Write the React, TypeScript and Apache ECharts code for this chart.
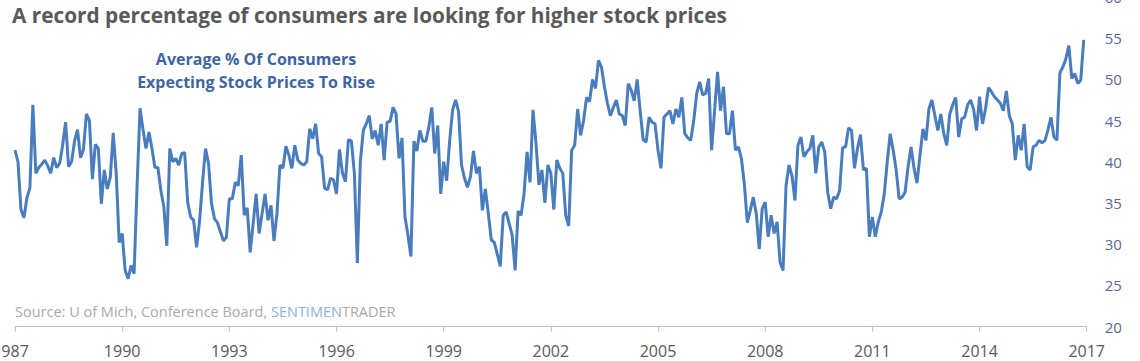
import React, { useEffect, useRef } from "react";
import * as echarts from "echarts";

const TITLE = "A record percentage of consumers are looking for higher stock prices";
const SUBTITLE_1 = "Average % Of Consumers";
const SUBTITLE_2 = "Expecting Stock Prices To Rise";
const SOURCE_PREFIX = "Source: U of Mich, Conference Board, ";
const SOURCE_BRAND_A = "SENTIMEN";
const SOURCE_BRAND_B = "TRADER";

const START_YEAR = 1987;
const END_YEAR = 2017;
const YEAR_STEP = 3;
const Y_MIN = 20;
const Y_MAX = 60;
const Y_STEP = 5;

// Monthly readings, Jan 1987 .. Dec 2016
const v1987_1991 = [
  41.4, 40.0, 34.2, 33.2, 35.6, 36.8, 46.9, 38.6, 39.3, 39.7, 40.2, 39.5,
  38.6, 40.5, 39.3, 39.8, 42.0, 44.8, 39.4, 40.0, 42.5, 43.9, 40.5, 41.5,
  45.8, 45.0, 37.9, 42.1, 41.6, 34.9, 39.0, 36.7, 38.1, 43.5, 38.6, 30.2,
  31.3, 26.8, 25.8, 27.4, 26.4, 37.0, 46.5, 43.9, 41.6, 43.6, 41.6, 39.3,
  39.3, 36.5, 34.5, 29.8, 41.6, 40.0, 40.4, 39.6, 41.0, 41.1, 35.1, 33.3,
];
const v1992_1996 = [
  32.9, 29.6, 32.8, 37.5, 41.6, 39.8, 35.0, 33.1, 32.6, 31.5, 30.4, 30.8,
  35.5, 35.5, 37.5, 37.1, 40.8, 33.5, 34.4, 29.0, 32.5, 36.1, 31.3, 33.7,
  36.1, 32.9, 34.7, 30.4, 33.7, 39.6, 39.2, 41.9, 40.8, 39.2, 42.0, 40.2,
  39.8, 39.6, 40.0, 44.0, 42.8, 44.6, 41.0, 40.6, 36.8, 36.6, 38.0, 37.8,
  36.1, 41.5, 38.6, 37.6, 42.7, 42.5, 38.6, 27.7, 40.0, 43.8, 44.6, 45.6,
];
const v1997_2001 = [
  42.8, 43.8, 42.0, 44.6, 40.2, 44.8, 44.9, 46.6, 45.8, 40.4, 42.9, 33.3,
  31.1, 28.5, 42.5, 41.3, 43.8, 42.5, 42.5, 44.2, 46.6, 41.0, 44.4, 36.1,
  40.0, 37.7, 42.5, 46.3, 47.5, 46.1, 39.6, 38.0, 36.9, 38.2, 41.3, 38.6,
  39.4, 34.1, 36.7, 33.7, 30.5, 30.2, 28.8, 27.3, 33.5, 33.9, 32.5, 31.1,
  26.8, 34.0, 33.5, 36.1, 41.2, 37.5, 46.3, 42.3, 37.2, 39.0, 35.0, 39.6,
];
const v2002_2006 = [
  38.6, 34.2, 40.2, 39.2, 38.6, 33.5, 32.2, 41.4, 42.0, 46.4, 43.2, 45.0,
  47.8, 47.3, 50.0, 48.9, 52.3, 51.5, 49.1, 47.1, 45.6, 46.6, 47.5, 45.8,
  45.6, 44.4, 49.5, 48.7, 47.4, 50.0, 46.2, 42.7, 42.4, 45.4, 44.8, 44.6,
  41.4, 39.2, 45.4, 45.8, 46.2, 44.6, 46.4, 45.4, 47.8, 43.4, 42.9, 42.6,
  45.0, 48.3, 49.7, 48.1, 48.3, 50.1, 41.4, 46.2, 50.9, 46.2, 49.1, 43.4,
];
const v2007_2011 = [
  43.4, 46.2, 41.4, 41.8, 40.4, 37.3, 32.6, 34.1, 35.7, 33.7, 29.4, 34.3,
  35.1, 30.9, 33.5, 31.3, 32.7, 27.8, 26.8, 37.1, 39.6, 38.3, 35.3, 42.0,
  43.0, 40.6, 41.2, 41.6, 43.2, 38.6, 41.8, 42.4, 41.2, 36.3, 34.3, 35.7,
  35.5, 36.5, 41.7, 41.8, 44.1, 43.8, 39.2, 41.6, 43.3, 39.0, 39.2, 30.9,
  33.3, 30.9, 32.7, 33.9, 36.1, 40.0, 43.4, 41.4, 39.0, 35.5, 35.7, 36.3,
];
const v2012_2016 = [
  39.4, 41.8, 39.2, 37.4, 40.8, 44.0, 42.6, 46.4, 47.5, 45.6, 43.8, 45.8,
  43.4, 42.0, 45.8, 46.9, 47.8, 43.0, 45.2, 45.4, 46.9, 47.5, 46.4, 43.8,
  47.9, 44.6, 46.4, 49.0, 48.5, 47.9, 47.5, 47.1, 46.2, 48.6, 45.6, 44.6,
  40.2, 43.2, 41.4, 44.6, 39.4, 39.0, 41.8, 42.0, 42.6, 42.3, 42.6, 43.9,
  45.4, 43.0, 42.6, 50.8, 51.5, 52.5, 54.1, 50.1, 50.7, 49.5, 49.9, 54.8,
];

const monthlyValues = [
  ...v1987_1991,
  ...v1992_1996,
  ...v1997_2001,
  ...v2002_2006,
  ...v2007_2011,
  ...v2012_2016,
];

// The chart canvas extends above the page so the top tick label ("60") is clipped like the original.
const OVERHANG_TOP = 20;

export default function App() {
  const ref = useRef<HTMLDivElement>(null);

  useEffect(() => {
    if (!ref.current) return;
    const chart = echarts.init(ref.current, null, { renderer: "svg" });
    const seriesData = monthlyValues.map((v, i) => [START_YEAR + i / 12, v]);
    const font = "'Open Sans', 'Noto Sans', sans-serif";
    const oy = OVERHANG_TOP;

    chart.setOption({
      animation: false,
      backgroundColor: "#ffffff",
      grid: {
        left: 15,
        right: 53.3,
        top: oy - 3,
        bottom: 34.5,
        containLabel: false,
        outerBoundsMode: "none",
      },
      xAxis: {
        type: "value",
        min: START_YEAR,
        max: END_YEAR,
        interval: YEAR_STEP,
        axisLine: { show: true, lineStyle: { color: "#c4c4c4", width: 1.2 } },
        axisTick: { show: true, length: 5, lineStyle: { color: "#c4c4c4", width: 1.2 } },
        splitLine: { show: false },
        axisLabel: {
          color: "#595959",
          fontSize: 16,
          fontFamily: font,
          margin: 16,
          alignMinLabel: "center",
          alignMaxLabel: "center",
          formatter: (v: number) => (v === START_YEAR ? `{first|${v}}` : String(v)),
          rich: {
            first: {
              fontSize: 16,
              fontFamily: font,
              color: "#595959",
              padding: [0, 9, 0, 0],
            },
          },
        },
      },
      yAxis: {
        type: "value",
        position: "right",
        min: Y_MIN,
        max: Y_MAX,
        interval: Y_STEP,
        axisLine: { show: false },
        axisTick: { show: false },
        splitLine: { show: false },
        axisLabel: {
          color: "#56699a",
          fontSize: 15,
          fontFamily: font,
          margin: 18,
        },
      },
      series: [
        {
          type: "line",
          data: seriesData,
          showSymbol: false,
          symbol: "none",
          lineStyle: { color: "#4a7dbd", width: 3 },
          z: 3,
        },
      ],
      graphic: [
        {
          type: "text",
          x: 12,
          y: oy + 15,
          style: {
            text: TITLE,
            font: `bold 20.8px ${font}`,
            fill: "#595959",
            verticalAlign: "middle",
          },
        },
        {
          type: "text",
          x: 256,
          y: oy + 59,
          style: {
            text: SUBTITLE_1,
            font: `bold 16px ${font}`,
            fill: "#3f65a1",
            align: "center",
            verticalAlign: "middle",
          },
        },
        {
          type: "text",
          x: 256,
          y: oy + 82,
          style: {
            text: SUBTITLE_2,
            font: `bold 16px ${font}`,
            fill: "#3f65a1",
            align: "center",
            verticalAlign: "middle",
          },
        },
        {
          type: "text",
          x: 15,
          y: oy + 311,
          style: {
            text: `{a|${SOURCE_PREFIX}}{b|${SOURCE_BRAND_A}}{a|${SOURCE_BRAND_B}}`,
            verticalAlign: "middle",
            rich: {
              a: { fontSize: 14.5, fontFamily: font, fill: "#a9a9a9", color: "#a9a9a9" },
              b: { fontSize: 14.5, fontFamily: font, fill: "#8fb0da", color: "#8fb0da" },
            },
          },
        },
      ],
    });

    return () => chart.dispose();
  }, []);

  return (
    <div
      ref={ref}
      style={{
        position: "absolute",
        left: 0,
        top: -OVERHANG_TOP,
        width: 1140,
        height: 361 + OVERHANG_TOP,
      }}
    />
  );
}
